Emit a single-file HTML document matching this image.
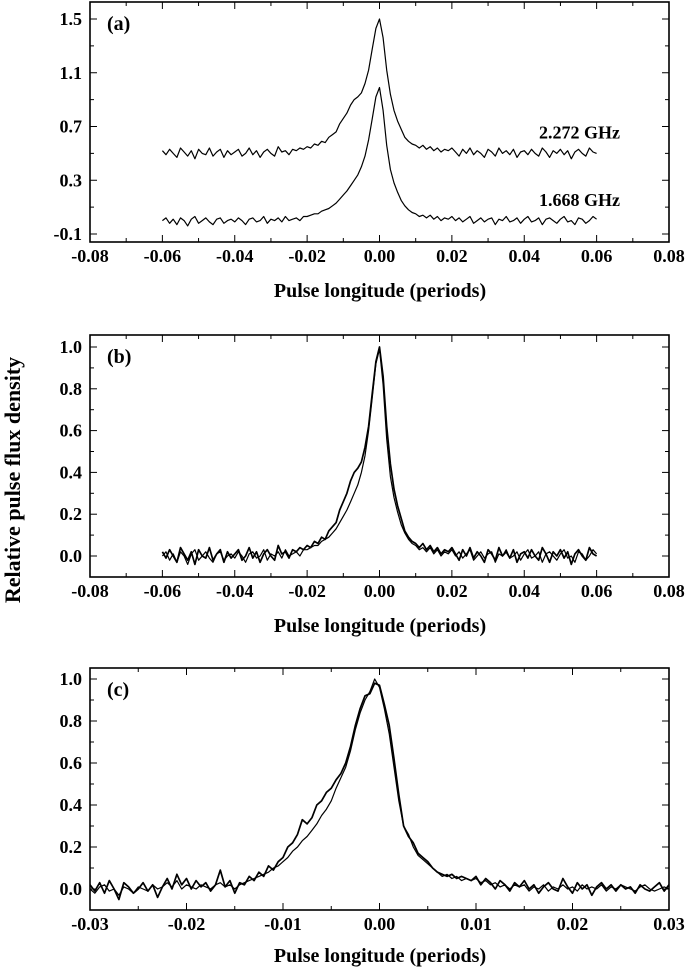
<!DOCTYPE html>
<html><head><meta charset="utf-8"><style>
body{margin:0;background:#fff}
svg{display:block;font-family:"Liberation Serif",serif;font-weight:bold}
</style></head><body>
<svg id="fig" width="686" height="969"></svg>
<script>
// ---- panel (b) data: x from -0.060 to 0.060, step 0.001 ----
const bX0 = -0.06, bStep = 0.001;
const b1 = [].concat(
 [0.02,-0.01,0.03,0.00,-0.03,0.04,0.01,-0.02,0.02,-0.04,0.03,0.00,-0.01,0.04,-0.02,0.01,0.03,-0.03,0.02,-0.01],
 [0.01,0.03,-0.02,0.00,0.04,-0.01,0.02,-0.03,0.01,0.03,0.00,-0.02,0.05,0.01,0.02,-0.01,0.03,0.02,0.04,0.03],
 [0.05,0.04,0.07,0.06,0.09,0.08,0.12,0.14,0.16,0.22],
 [0.26,0.30,0.36,0.40,0.42,0.45,0.52,0.62,0.78,0.93],
 [1.00,0.86,0.62,0.44,0.32,0.24,0.18,0.12,0.09,0.07],
 [0.06,0.04,0.06,0.03,0.05,0.02,0.04,0.01,0.03,0.02,0.04],
 [0.01,-0.02,0.03,0.00,0.04,-0.01,0.02,0.00,-0.03,0.03,0.01,-0.02,0.04,0.00,0.02,-0.01,0.03,-0.03,0.01,0.02,
  -0.01,0.03,0.00,-0.02,0.04,0.01,-0.03,0.02,0.00,0.03,-0.01,0.02,-0.04,0.01,0.03,0.00,-0.02,0.04,0.01,0.00]);
const b2 = [].concat(
 [0.00,0.02,-0.02,0.01,-0.03,0.02,0.00,-0.04,0.01,0.03,-0.02,0.00,0.02,-0.01,-0.03,0.01,0.02,-0.02,0.00,0.01],
 [-0.01,0.02,0.00,-0.03,0.01,0.02,-0.01,0.00,0.03,-0.02,0.01,0.00,0.02,-0.01,0.03,0.00,0.01,0.02,0.00,0.03],
 [0.03,0.04,0.05,0.05,0.07,0.08,0.09,0.11,0.13,0.16],
 [0.19,0.22,0.26,0.30,0.34,0.40,0.48,0.60,0.76,0.92],
 [0.99,0.82,0.56,0.38,0.28,0.21,0.15,0.11,0.08,0.06],
 [0.05,0.03,0.04,0.02,0.04,0.01,0.03,0.00,0.02,0.01,0.03],
 [0.00,0.02,-0.01,0.01,0.03,-0.02,0.00,0.02,-0.01,0.01,0.02,-0.03,0.01,0.00,0.03,-0.01,0.00,0.02,-0.02,0.01,
  0.03,-0.01,0.00,0.02,-0.03,0.01,0.02,0.00,-0.02,0.01,0.03,-0.01,0.00,-0.03,0.02,0.01,-0.02,0.00,0.03,0.01]);
// panel (a) offsets
const aOffsets = [0.5, 0.0];
const aLabels = ["2.272 GHz","1.668 GHz"];
// ---- panel (c) data: x from -0.030 to 0.030, step 0.0005 ----
const cX0 = -0.03, cStep = 0.0005;
const c1 = [].concat(
 [0.02,-0.01,0.03,-0.02,0.04,0.00,-0.05,0.03,0.01,-0.02,0.00,0.03,-0.01,0.02,-0.04,0.01,0.05,0.00,0.07,0.02,0.05,0.00,0.04,0.01,0.03,-0.01,0.02,0.09,0.01,0.04],
 [-0.02,0.03,0.02,0.06,0.04,0.08,0.06,0.11,0.09,0.13],
 [0.15,0.20,0.22,0.26,0.33,0.31,0.34,0.40,0.42,0.46],
 [0.48,0.52,0.55,0.60,0.68,0.78,0.86,0.92,0.93,0.98],
 [0.97,0.88,0.78,0.62,0.45,0.30,0.25,0.22,0.17,0.15],
 [0.13,0.10,0.08,0.07,0.06,0.07,0.05,0.06,0.05,0.04],
 [0.06,0.02,0.05,0.03,0.00,0.04,0.02,-0.01,0.03,0.01,0.04,0.00,0.02,-0.02,0.01,0.03,0.00,-0.01,0.05,0.01,
  -0.02,0.03,0.00,0.02,-0.03,0.01,0.03,0.00,0.02,-0.01,0.02,0.00,0.01,-0.02,0.02,0.00,-0.01,0.01,0.03,-0.01,0.02]);
const c2 = [].concat(
 [0.00,-0.02,0.01,0.02,-0.01,0.00,-0.03,0.01,0.00,-0.02,0.01,0.00,-0.01,0.02,0.00,0.01,0.03,0.01,0.04,0.00,0.02,0.01,0.00,0.02,0.01,0.00,0.02,0.03,0.01,0.02],
 [0.00,0.02,0.03,0.04,0.05,0.06,0.07,0.08,0.10,0.11],
 [0.13,0.15,0.18,0.20,0.23,0.25,0.28,0.31,0.35,0.38],
 [0.42,0.48,0.53,0.58,0.66,0.76,0.84,0.90,0.94,1.00],
 [0.96,0.86,0.74,0.58,0.42,0.30,0.26,0.20,0.16,0.14],
 [0.12,0.10,0.08,0.06,0.07,0.05,0.06,0.04,0.05,0.04],
 [0.05,0.03,0.04,0.02,0.03,0.01,0.02,0.00,0.02,0.01,0.02,-0.01,0.01,0.00,0.02,-0.01,0.01,0.00,0.02,0.00,
  0.01,-0.01,0.02,0.00,0.01,0.00,0.02,-0.01,0.01,0.00,0.02,0.01,0.00,-0.01,0.01,0.02,0.00,-0.01,0.00,0.01,0.00]);
// tick labels
const abTicks = [-0.08,-0.06,-0.04,-0.02,0.00,0.02,0.04,0.06,0.08];
const cTicks = [-0.03,-0.02,-0.01,0.00,0.01,0.02,0.03];
const aYTicks = [-0.1,0.3,0.7,1.1,1.5];
const bYTicks = [0.0,0.2,0.4,0.6,0.8,1.0];

const NS="http://www.w3.org/2000/svg";
const svg=document.getElementById('fig');
function mk(tag,attrs,parent){const e=document.createElementNS(NS,tag);for(const k in attrs)e.setAttribute(k,attrs[k]);(parent||svg).appendChild(e);return e;}

function panel(cfg){
  const g=mk('g',{});
  
  
  const L=90,R=669,T=cfg.top,B=cfg.bottom;
  const sx=v=>L+(v-cfg.xmin)/(cfg.xmax-cfg.xmin)*(R-L);
  const sy=v=>cfg.y0px+(v-cfg.yv0)/(cfg.yv1-cfg.yv0)*(cfg.y1px-cfg.y0px);
  const fr=mk('rect',{x:L,y:T,width:R-L,height:B-T,fill:'none',stroke:'#000','stroke-width':1.6},g);
  
  
  cfg.xt.forEach((v,i)=>{
    const x=sx(v);
    mk('line',{x1:x,x2:x,y1:B,y2:B-7,stroke:'#000'},g);
    mk('line',{x1:x,x2:x,y1:T,y2:T+7,stroke:'#000'},g);
    if(i<cfg.xt.length-1){const xm=sx((v+cfg.xt[i+1])/2);
      mk('line',{x1:xm,x2:xm,y1:B,y2:B-4,stroke:'#000'},g);mk('line',{x1:xm,x2:xm,y1:T,y2:T+4,stroke:'#000'},g);}
    const t=mk('text',{x:x,y:B+20,'font-size':18,'text-anchor':'middle'},g);
    t.textContent=v.toFixed(2);
    
    
  });
  cfg.yt.forEach((v,i)=>{
    const y=sy(v);
    mk('line',{x1:L,x2:L+7,y1:y,y2:y,stroke:'#000'},g);
    mk('line',{x1:R,x2:R-7,y1:y,y2:y,stroke:'#000'},g);
    if(i<cfg.yt.length-1){const ym=sy((v+cfg.yt[i+1])/2);
      mk('line',{x1:L,x2:L+4,y1:ym,y2:ym,stroke:'#000'},g);mk('line',{x1:R,x2:R-4,y1:ym,y2:ym,stroke:'#000'},g);}
    const t=mk('text',{x:L-8,y:y+6,'font-size':18,'text-anchor':'end'},g);
    t.textContent=v.toFixed(1);
    
    
  });
  cfg.series.forEach(s=>{
    const pts=s.data.map((v,i)=>sx(s.x0+i*s.step).toFixed(1)+','+sy(v+s.off).toFixed(1)).join(' ');
    const p=mk('polyline',{points:pts,fill:'none',stroke:'#000','stroke-width':s.w,'stroke-linejoin':'round'},g);
    
    
  });
  const lb=mk('text',{x:L+17,y:T+28,'font-size':20},g);
  lb.textContent=cfg.label;
  
  
  const xt=mk('text',{x:380,y:cfg.titleY,'font-size':20,'text-anchor':'middle'},g);
  xt.textContent='Pulse longitude (periods)';
  
  
  return {sx,sy,g};
}

const pa=panel({name:'panel-a',top:2,bottom:242,xmin:-0.08,xmax:0.08,xt:abTicks,yt:aYTicks,yv0:-0.1,yv1:1.5,y0px:234,y1px:19,label:'(a)',titleY:297,
  series:[{data:b1,x0:bX0,step:bStep,off:aOffsets[0],w:1.2,name:'series-2272-ghz'},{data:b2,x0:bX0,step:bStep,off:aOffsets[1],w:1.2,name:'series-1668-ghz'}]});
aLabels.forEach((s,i)=>{
  const t=mk('text',{x:620,y:pa.sy(aOffsets[i]+0.08)-4,'font-size':18,'text-anchor':'end'},pa.g);
  t.textContent=s;
  
  
});
panel({name:'panel-b',top:335,bottom:577,xmin:-0.08,xmax:0.08,xt:abTicks,yt:bYTicks,yv0:0,yv1:1,y0px:556,y1px:347,label:'(b)',titleY:632,
  series:[{data:b1,x0:bX0,step:bStep,off:0,w:1.7,name:'series-2272-ghz'},{data:b2,x0:bX0,step:bStep,off:0,w:1.2,name:'series-1668-ghz'}]});
panel({name:'panel-c',top:668,bottom:910,xmin:-0.03,xmax:0.03,xt:cTicks,yt:bYTicks,yv0:0,yv1:1,y0px:889,y1px:679,label:'(c)',titleY:962,
  series:[{data:c1,x0:cX0,step:cStep,off:0,w:1.7,name:'series-2272-ghz'},{data:c2,x0:cX0,step:cStep,off:0,w:1.2,name:'series-1668-ghz'}]});

const yt=mk('text',{x:0,y:0,'font-size':22,'text-anchor':'middle',transform:'translate(20,480) rotate(-90)'});
yt.textContent='Relative pulse flux density';


</script>
</body></html>
